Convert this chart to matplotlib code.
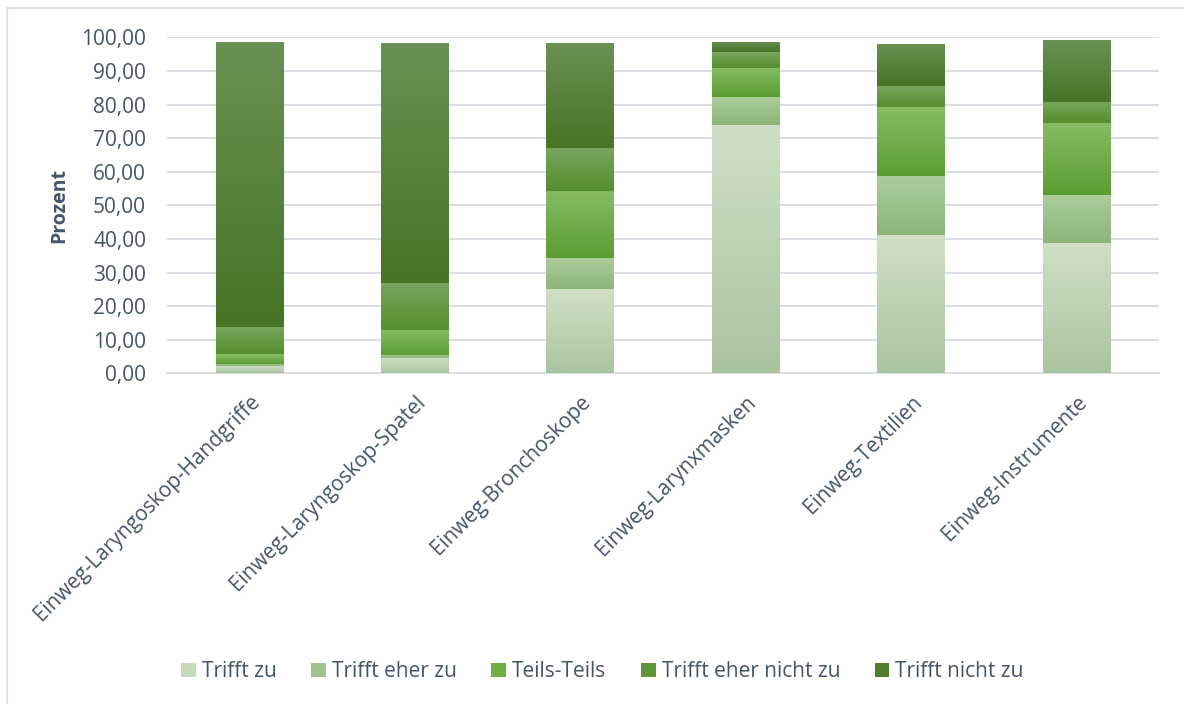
import numpy as np
import matplotlib.pyplot as plt
from matplotlib.colors import LinearSegmentedColormap
from matplotlib.lines import Line2D

# Kategorien und Antwortanteile (Prozent)
categories = [
    "Einweg-Laryngoskop-Handgriffe",
    "Einweg-Laryngoskop-Spatel",
    "Einweg-Bronchoskope",
    "Einweg-Larynxmasken",
    "Einweg-Textilien",
    "Einweg-Instrumente",
]
trifft_zu = [2.2, 4.6, 25.1, 73.9, 41.2, 38.8]
trifft_eher_zu = [0.6, 0.9, 9.2, 8.3, 17.5, 14.3]
teils_teils = [2.95, 7.4, 20.0, 8.7, 20.6, 21.4]
trifft_eher_nicht_zu = [8.05, 14.0, 12.8, 4.7, 6.1, 6.3]
trifft_nicht_zu = [84.8, 71.4, 31.2, 3.0, 12.5, 18.4]

series_names = ["Trifft zu", "Trifft eher zu", "Teils-Teils",
                "Trifft eher nicht zu", "Trifft nicht zu"]

# (oben, unten) Farbe je Serie fuer den Verlauf
gradients = [
    ("#cfe0c6", "#abc4a0"),
    ("#abcd9b", "#8cb479"),
    ("#86bc65", "#5c9d31"),
    ("#77a65e", "#558e2e"),
    ("#6a9155", "#467524"),
]
legend_colors = ["#c5dabb", "#9ec48b", "#6fae43", "#5e973a", "#4e7e2e"]

text_color = "#44546a"
grid_color = "#d9dde3"

plt.rcParams["font.family"] = ["Open Sans", "DejaVu Sans"]

fig = plt.figure(figsize=(11.84, 7.04), dpi=100)
ax = fig.add_axes([0.141, 0.4697, 0.838, 0.4773])

data = [trifft_zu, trifft_eher_zu, teils_teils, trifft_eher_nicht_zu, trifft_nicht_zu]
x = np.arange(len(categories))
bottom = np.zeros(len(categories))
grad = np.linspace(1, 0, 256).reshape(-1, 1)

for name, values, (top_c, bot_c), leg_c in zip(series_names, data, gradients, legend_colors):
    bars = ax.bar(x, values, width=0.41, bottom=bottom, color=leg_c,
                  label=name, zorder=2, linewidth=0)
    cmap = LinearSegmentedColormap.from_list(name, [bot_c, top_c])
    for b in bars:
        x0, y0 = b.get_x(), b.get_y()
        w, h = b.get_width(), b.get_height()
        if h <= 0:
            continue
        im = ax.imshow(grad, extent=[x0, x0 + w, y0, y0 + h], aspect="auto",
                       cmap=cmap, vmin=0, vmax=1, zorder=3, interpolation="bilinear")
        im.set_clip_path(b)
    bottom += np.array(values)

ax.set_xlim(-0.5, len(categories) - 0.5)
ax.set_ylim(0, 100)
ax.set_yticks(np.arange(0, 101, 10))
ax.set_yticklabels([f"{v:.2f}".replace(".", ",") for v in np.arange(0, 101, 10)])
ax.grid(axis="y", color=grid_color, linewidth=1.4, zorder=0)
ax.set_axisbelow(True)
for side in ["top", "right", "left"]:
    ax.spines[side].set_visible(False)
ax.spines["bottom"].set_color(grid_color)
ax.spines["bottom"].set_linewidth(1.4)

ax.tick_params(axis="y", length=0, pad=15, labelsize=15, labelcolor=text_color)
ax.tick_params(axis="x", length=0, pad=13, labelsize=15, labelcolor=text_color)
ax.set_xticks(x)
ax.set_xticklabels(categories, rotation=45, ha="right", rotation_mode="anchor")

ax.set_ylabel("Prozent", fontsize=14, fontweight="bold", color=text_color)
ax.yaxis.set_label_coords(-0.098, 0.5)

handles, labels = ax.get_legend_handles_labels()
fig.legend(handles, labels, loc="center", bbox_to_anchor=(0.509, 0.046), ncol=5,
           frameon=False, fontsize=15, labelcolor=text_color,
           handlelength=0.7, handleheight=0.7, handletextpad=0.3, columnspacing=1.65)

# Rahmenlinien links und oben
fig.add_artist(Line2D([0.0063, 0.0063, 1.0], [0.0, 0.988, 0.988],
                      transform=fig.transFigure, color="#dee2e8", linewidth=1.5))

fig.savefig("out.png", dpi=100, facecolor="white")
